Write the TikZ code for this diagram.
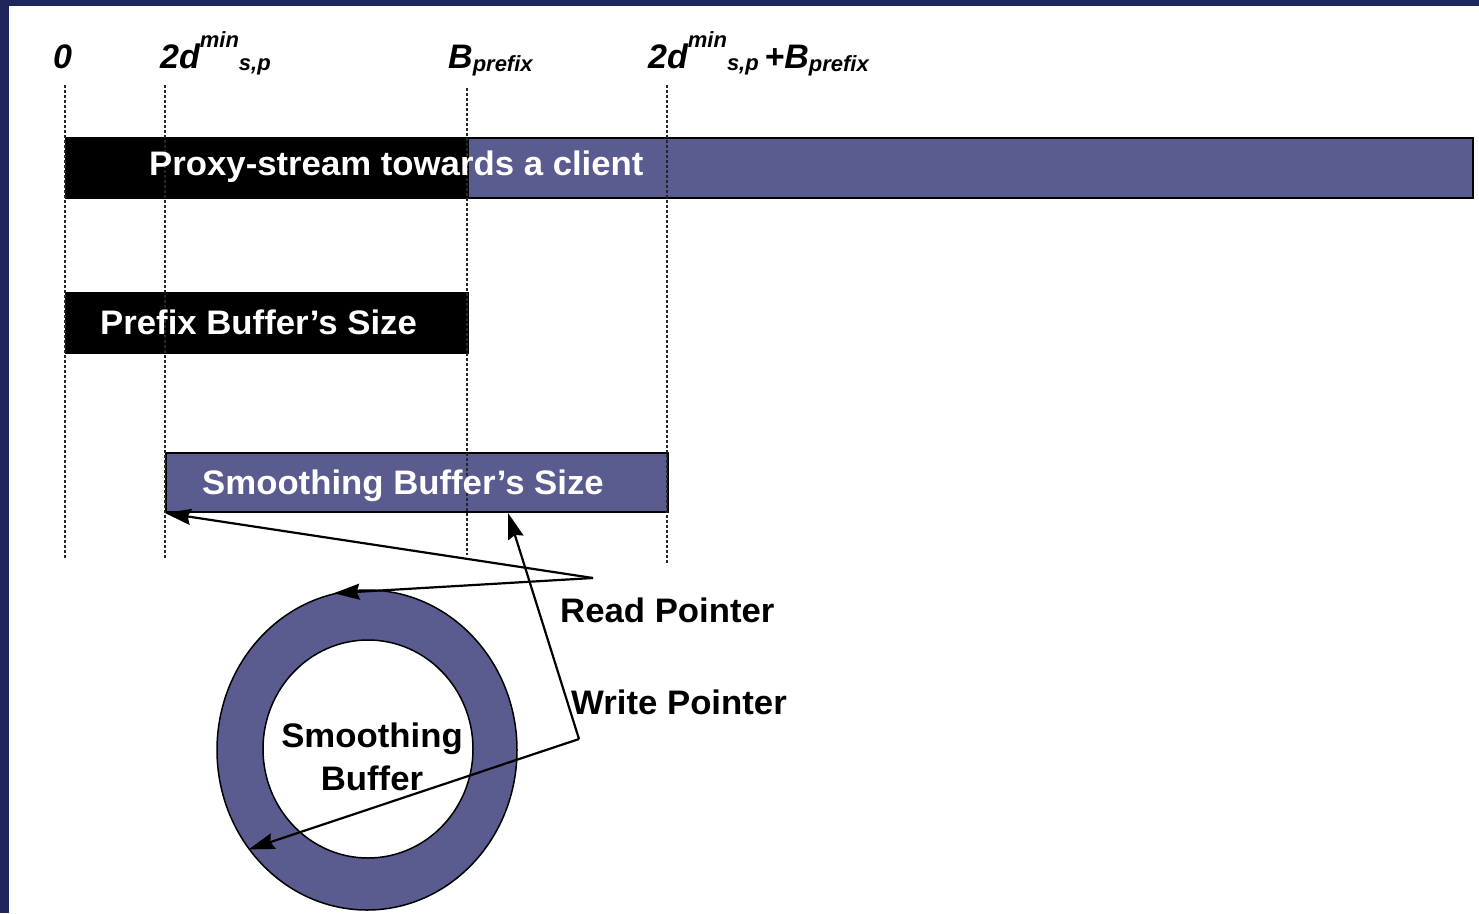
\documentclass[tikz,border=0pt]{standalone}
\usepackage{fontspec}
\setmainfont{Liberation Sans}
\newfontfamily\labfont[FakeStretch=1.022,Ligatures=TeX]{Liberation Sans}
\usetikzlibrary{shapes.geometric,arrows.meta,calc}
\definecolor{barblue}{RGB}{90,91,142}
\definecolor{frameblue}{RGB}{30,38,92}
\newcommand\mysubsup[1]{{\fontsize{22}{24}\selectfont #1}}
\begin{document}
\begin{tikzpicture}[x=1pt,y=-1pt,
  lab/.style={font=\labfont\fontsize{34}{40}\selectfont\bfseries, inner sep=0pt, anchor=base west},
  toplab/.style={font=\fontsize{34}{40}\selectfont\bfseries\itshape, inner sep=0pt, anchor=base west},
  bar/.style={rectangle, inner sep=0pt, anchor=north west, draw=black, line width=2pt},
  ringshape/.style={ellipse, inner sep=0pt, draw=black, line width=1.5pt},
  guide/.style={line width=1.5pt, dash pattern=on 3pt off 2pt, black!85},
  ptr/.style={line width=2.2pt, -{Stealth[length=26pt,width=16pt,inset=3pt]}}]

\useasboundingbox (0,0) rectangle (1479,913);
\fill[white] (0,0) rectangle (1479,913);
\fill[frameblue] (0,0) rectangle (1479,6);
\fill[frameblue] (0,0) rectangle (9,913);

% bars
\node[bar, fill=barblue, minimum width=1407pt, minimum height=60pt] (proxy) at (65,137) {};
\node[bar, fill=black, minimum width=402pt, minimum height=60pt] (proxyhead) at (65,137) {};
\node[bar, fill=black, minimum width=402pt, minimum height=60pt] (prefix) at (65,292) {};
\node[bar, fill=barblue, minimum width=502pt, minimum height=59pt] (smooth) at (165,452) {};

% guide lines
\coordinate (g0t) at (65,85);   \coordinate (g0b) at (65,558);
\coordinate (g1t) at (165,85);  \coordinate (g1b) at (165,558);
\coordinate (g2t) at (467,88);  \coordinate (g2b) at (467,555);
\coordinate (g3t) at (667,85);  \coordinate (g3b) at (667,565);
\draw[guide] (g0t) -- (g0b);
\draw[guide] (g1t) -- (g1b);
\draw[guide] (g2t) -- (g2b);
\draw[guide] (g3t) -- (g3b);

% ring
\node[ringshape, fill=barblue, minimum width=300pt, minimum height=320pt] (ring) at (367,750) {};
\node[ringshape, fill=white, minimum width=210pt, minimum height=218pt] (hole) at (368,749) {};

% texts
\node[lab, text=white] (proxytext) at (149,175) {Proxy-stream towards a client};
\node[lab, text=white] (prefixtext) at (100,334) {Prefix Buffer’s Size};
\node[lab, text=white] (smoothtext) at (202,494) {Smoothing Buffer’s Size};
\node[lab] (read) at (560,622) {Read Pointer};
\node[lab] (write) at (571,714) {Write Pointer};
\node[lab, anchor=base] (ringtext1) at (372,747) {Smoothing};
\node[lab, anchor=base] (ringtext2) at (372,790) {Buffer};

% axis labels
\node[toplab] (t0) at (53,68) {0};
\node[toplab] (t1) at (160,68) {2d\raisebox{21pt}{\mysubsup{min}}\raisebox{-2pt}{\mysubsup{s,p}}};
\node[toplab] (t2) at (448,68) {B\raisebox{-3pt}{\mysubsup{prefix}}};
\node[toplab] (t3) at (648,68) {2d\raisebox{21pt}{\mysubsup{min}}\raisebox{-2pt}{\mysubsup{s,p}}\,+B\raisebox{-3pt}{\mysubsup{prefix}}};

% pointers
\coordinate (rp) at (593,578);
\coordinate (wp) at (579,739);
\draw[ptr] (rp) -- (smooth.south west);
\draw[ptr] (rp) -- (ring.102);
\draw[ptr] (wp) -- ([xshift=343pt]smooth.south west);
\draw[ptr] (wp) -- (ring.220);
\end{tikzpicture}
\end{document}
